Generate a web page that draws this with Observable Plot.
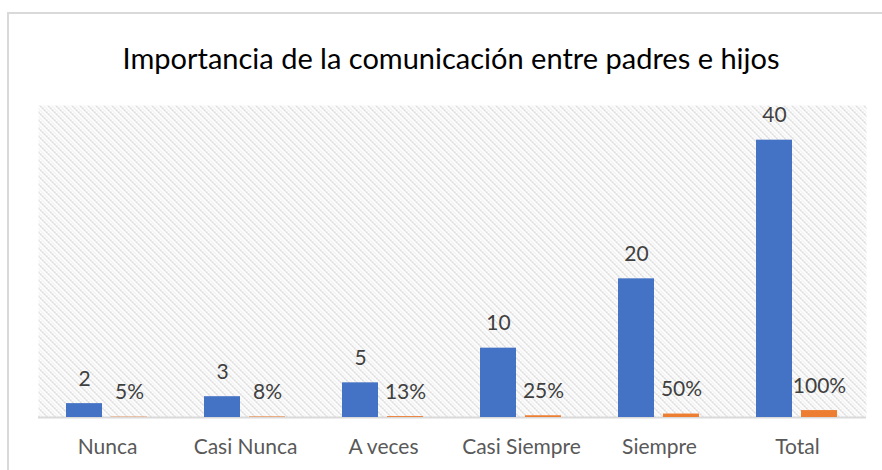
<!DOCTYPE html>
<html>
<head>
<meta charset="utf-8">
<script src="https://cdn.jsdelivr.net/npm/d3@7"></script>
<script src="https://cdn.jsdelivr.net/npm/@observablehq/plot@0.6"></script>
<style>
  html, body { margin: 0; padding: 0; background: #fff; }
  body { width: 882px; height: 470px; position: relative; overflow: hidden; font-family: Lato, "Open Sans", sans-serif; }
  #border { position: absolute; left: 7px; top: 12px; width: 900px; height: 500px; border-left: 2px solid #d9d9d9; border-top: 2px solid #d9d9d9; box-sizing: border-box; }
  #title { position: absolute; left: 20px; top: 38px; width: 862px; height: 40px; line-height: 40px; text-align: center; font-size: 29px; color: #000; white-space: nowrap; }
  #chart { position: absolute; left: 0; top: 90px; }
</style>
</head>
<body>
<div id="border"></div>
<div id="title">Importancia de la comunicación entre padres e hijos</div>
<div id="chart"></div>
<script>
const categorias = ["Nunca", "Casi Nunca", "A veces", "Casi Siempre", "Siempre", "Total"];
const frecuencia = [2, 3, 5, 10, 20, 40];
const porcentaje = [0.05, 0.08, 0.13, 0.25, 0.50, 1.00];
const series = ["Frecuencia", "Porcentaje"];
const colores = ["#4472C4", "#ED7D31"];

const data = [];
categorias.forEach((c, i) => {
  data.push({cat: c, serie: series[0], valor: frecuencia[i], etiqueta: String(frecuencia[i])});
  data.push({cat: c, serie: series[1], valor: porcentaje[i], etiqueta: d3.format(".0%")(porcentaje[i])});
});

const plot = Plot.plot({
  width: 882,
  height: 380,
  marginLeft: 37,
  marginRight: 15,
  marginTop: 15,
  marginBottom: 53,
  style: {fontFamily: "Lato, 'Open Sans', sans-serif", fontSize: "21px", color: "#595959", background: "transparent"},
  fx: {domain: categorias, paddingInner: 0, paddingOuter: 0, label: null, axis: "bottom", tickSize: 0, tickPadding: 22},
  x: {domain: series, paddingInner: 0.196, paddingOuter: 0.6, axis: null},
  y: {domain: [0, 45], axis: null},
  color: {domain: series, range: colores},
  marks: [
    Plot.frame({fill: "url(#hatch)", stroke: "none", facet: "super"}),
    Plot.ruleY([0], {stroke: "#d9d9d9", strokeWidth: 2}),
    Plot.barY(data, {fx: "cat", x: "serie", y: "valor", fill: "serie"}),
    Plot.text(data, {fx: "cat", x: "serie", y: "valor", text: "etiqueta", lineAnchor: "bottom", dy: -18, fill: "#404040", fontSize: 21})
  ]
});

const svg = d3.select(plot);
const defs = svg.insert("defs", ":first-child");
const pat = defs.append("pattern")
  .attr("id", "hatch").attr("patternUnits", "userSpaceOnUse")
  .attr("width", 8).attr("height", 8);
pat.append("rect").attr("width", 8).attr("height", 8).attr("fill", "#fff");
const px = [[0,0],[1,1],[2,1],[2,2],[3,3],[4,3],[4,4],[5,5],[6,5],[6,6],[7,7],[0,7]];
px.forEach(([x, y]) => pat.append("rect").attr("x", x).attr("y", y).attr("width", 1).attr("height", 1).attr("fill", "#d2d2d2"));
[[4,0],[5,1],[6,2],[7,3],[0,4],[1,5],[2,6],[3,7]].forEach(([x, y]) => pat.append("rect").attr("x", x).attr("y", y).attr("width", 1).attr("height", 1).attr("fill", "#e6e6e6"));
document.getElementById("chart").appendChild(plot);
</script>
</body>
</html>
